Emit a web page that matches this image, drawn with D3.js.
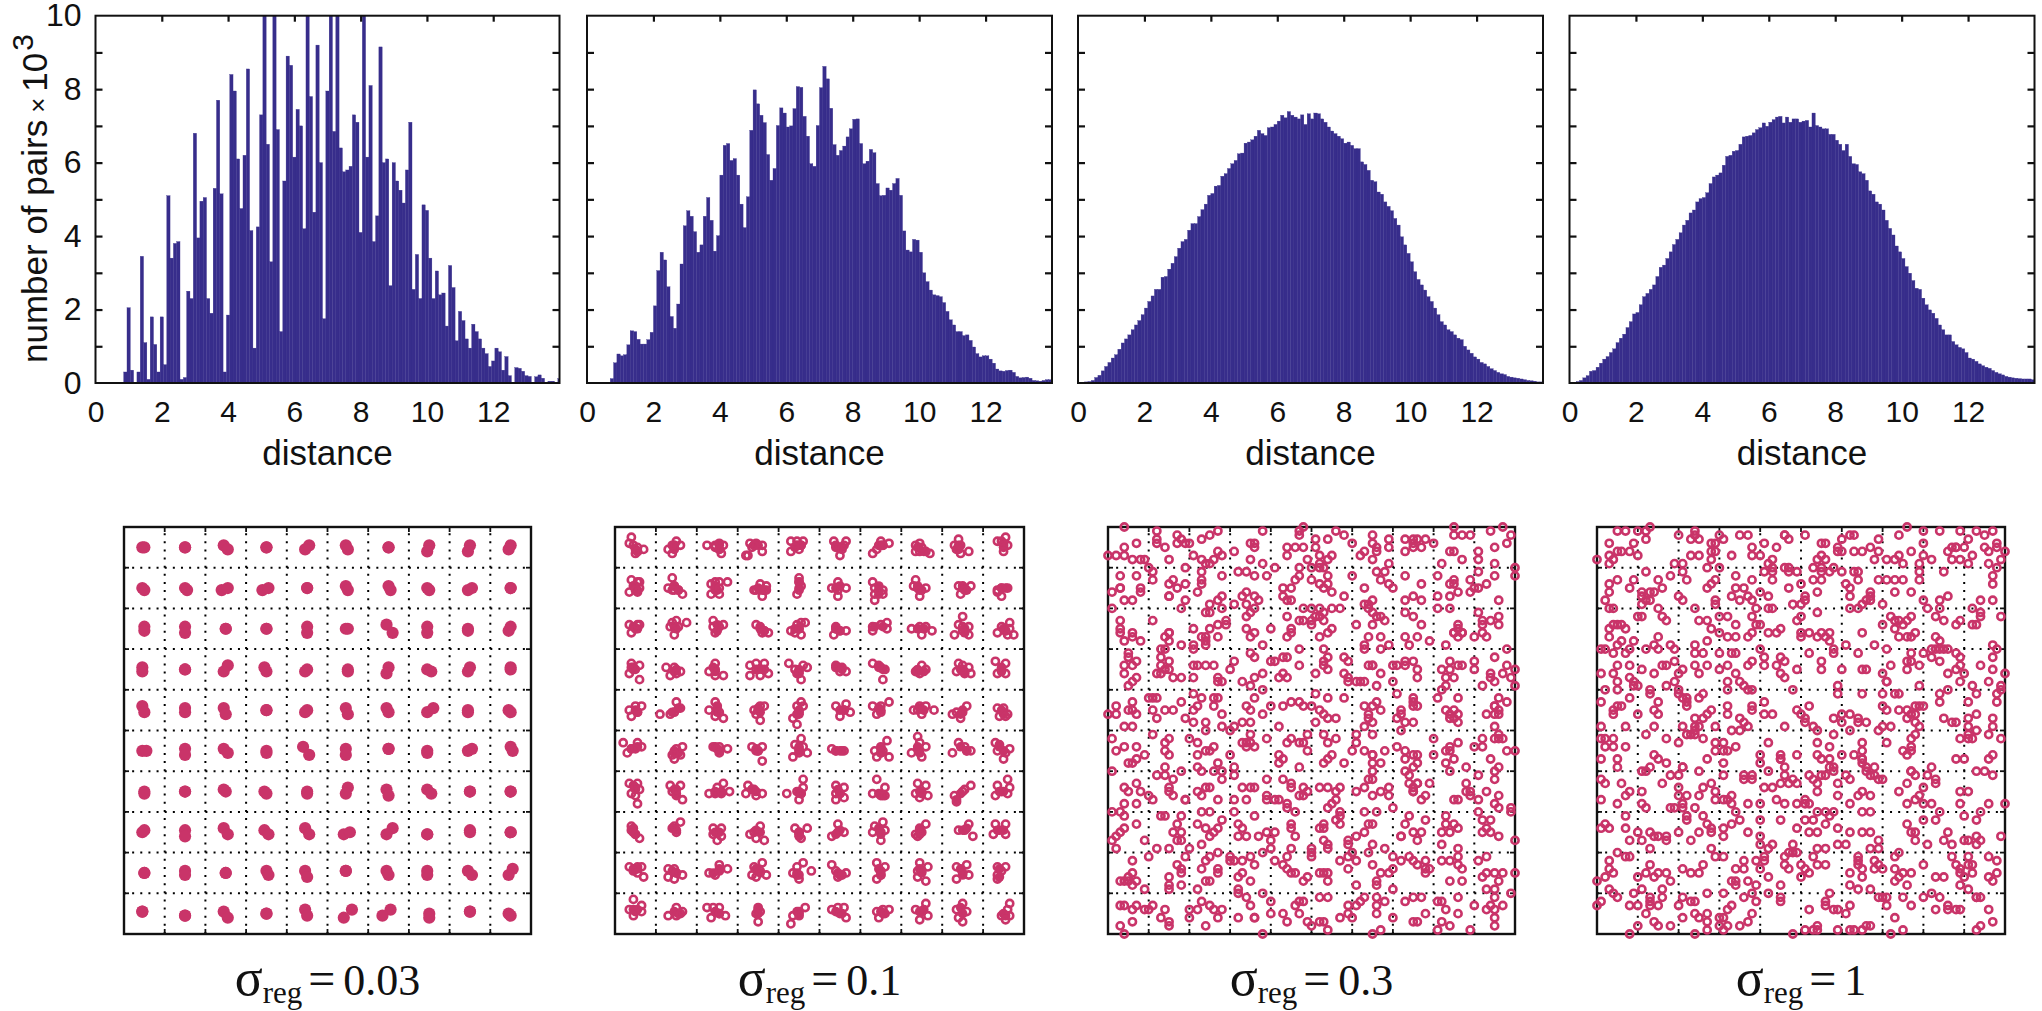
<!DOCTYPE html>
<html><head><meta charset="utf-8">
<script src="https://cdn.jsdelivr.net/npm/d3@7"></script>
<style>html,body{margin:0;padding:0;background:#fff}svg{display:block}</style>
</head><body><svg id="c" width="2042" height="1011"></svg>
<script>
const xTicks=[0,2,4,6,8,10,12], yTicks=[0,1,2,3,4,5,6,7,8,9,10];
const yTickLabels=[0,2,4,6,8,10];
const sigmaLabels=["0.03","0.1","0.3","1"];
const binStart=[0.05,0,0,0];
const hist1=[0,0,0,0,0,0,0,0,.3,2.05,.35,0,.3,3.45,1.1,.1,1.8,1.05,.3,1.8,.5,5.1,3.4,3.8,3.85,.1,.15,2.5,2.3,6.8,3.95,4.95,5.05,2.3,1.9,5.3,7.7,5.15,.3,1.85,8.4,7.95,6.1,4.75,6.2,8.55,4.15,.95,4.25,7.3,10,6.5,3.3,10,6.9,1.4,5.5,8.9,8.65,6.15,7.45,7,4.2,10,7.8,4.65,9.2,6,1.75,7.95,10,6.85,10,6.4,5.75,5.8,5.9,7.3,7.1,4.1,10,6.15,8.1,3.85,4.55,9.15,6,6.1,2.65,6,5.5,5.25,4.9,5.8,7.1,2.55,3.5,2.3,4.85,4.7,3.4,2.3,3.05,2.4,2.45,1.55,3.2,2.6,1.15,1.95,1.7,1.2,.95,1.6,1.4,1.2,.95,.8,.45,.6,.95,.85,.35,.72,.2,0,.42,.4,.32,.2,.18,0,.17,.22,.13,0,.05,.05,0,.12];
const hist2=[0,0,0,0,0,0,.02,.12,.55,.79,.74,.77,1.04,1.42,1.4,1.19,1.06,1.06,1.18,1.38,2.1,3.06,3.56,3.35,2.62,1.81,1.49,2.15,3.24,4.28,4.69,4.54,4.12,3.56,3.76,4.54,5.05,4.43,3.59,4.01,5.66,6.47,6.52,6.06,6.11,5.66,4.87,4.23,5.07,6.88,7.98,7.6,7.29,7.09,6.22,5.52,5.84,7.01,7.49,7.35,6.97,7,7.47,8.07,8.05,7.26,6.72,5.97,5.9,7.01,8.04,8.62,8.28,7.48,6.49,6.2,6.33,6.45,6.7,6.92,7.18,7.19,6.52,5.97,6.04,6.36,6.27,5.43,5.1,5.11,5.31,5.25,5.43,5.57,5.11,4.14,3.62,3.57,3.91,3.89,3.56,3,2.76,2.53,2.4,2.38,2.35,2.19,1.95,1.72,1.58,1.4,1.4,1.29,1.31,1.16,.98,.8,.71,.74,.74,.65,.54,.38,.33,.32,.34,.35,.29,.18,.14,.15,.16,.13,.07,.06,.05,.07,.09,.09];
const hist3=[.01,.02,.03,.04,.07,.15,.21,.33,.45,.56,.68,.77,.92,1.09,1.2,1.31,1.45,1.58,1.7,1.86,2.04,2.22,2.37,2.55,2.55,2.88,2.9,3.1,3.26,3.44,3.67,3.85,3.91,4.16,4.34,4.34,4.53,4.72,4.87,5.11,5.16,5.36,5.38,5.63,5.7,5.84,5.97,6.06,6.24,6.26,6.53,6.56,6.62,6.72,6.88,6.79,6.74,6.95,6.97,7.04,7.13,7.29,7.22,7.39,7.29,7.24,7.19,7.3,7.04,7.33,7.19,7.35,7.33,7.19,7.1,6.97,6.86,6.79,6.72,6.65,6.53,6.56,6.47,6.38,6.38,6.02,5.95,5.79,5.52,5.48,5.2,5.14,4.93,4.81,4.69,4.48,4.3,3.98,3.76,3.53,3.3,3.03,2.82,2.67,2.53,2.35,2.22,2.04,1.86,1.67,1.58,1.45,1.4,1.31,1.22,1.18,1,.9,.81,.71,.65,.56,.52,.45,.39,.34,.29,.25,.23,.18,.16,.14,.13,.11,.09,.07,.06,.05,.03,.03];
const hist4=[.01,.02,.04,.07,.14,.2,.32,.34,.43,.54,.65,.72,.83,.93,1.1,1.22,1.33,1.51,1.67,1.88,1.92,2.13,2.35,2.44,2.55,2.67,2.9,3.15,3.21,3.39,3.57,3.77,3.91,4.09,4.3,4.43,4.63,4.71,4.93,5.02,5.05,5.18,5.43,5.61,5.66,5.72,5.93,6.17,6.2,6.31,6.33,6.5,6.7,6.72,6.74,6.81,6.9,6.95,7.08,6.99,7.1,7.17,7.24,7.26,7.08,7.24,7.1,7.19,7.19,7.1,7.13,7.15,6.97,7.35,7.01,6.97,6.92,6.92,6.77,6.77,6.61,6.5,6.33,6.5,6.17,5.97,5.95,5.75,5.7,5.52,5.23,5.14,4.93,4.87,4.71,4.43,4.21,4.03,3.73,3.57,3.39,3.17,2.99,2.79,2.58,2.55,2.31,2.13,1.99,1.9,1.76,1.58,1.45,1.31,1.31,1.13,1.04,.97,.93,.83,.68,.65,.59,.52,.47,.43,.4,.34,.29,.25,.22,.18,.16,.14,.13,.12,.11,.11,.11,.09];
const histograms=[hist1,hist2,hist3,hist4];

// sigma 0.03: each blob is read as two end points x1,y1,x2,y2 (square spans 0..200)
const blobs03=[9,10,10,10,30,10,30,10,49,9,51,11,70,10,70,10,91,9,89,11,109,9,110,11,130,10,130,10,150,9,149,12,170,9,169,12,190,9,189,11,
9,30,10,31,30,30,31,31,48,31,51,30,68,31,71,30,90,30,90,30,109,29,110,31,130,29,131,31,149,30,150,31,169,31,171,30,190,30,190,30,
10,49,10,51,30,49,30,52,50,50,50,50,70,50,70,50,90,49,90,52,109,50,110,50,129,48,132,52,149,49,149,52,169,50,169,51,190,49,189,51,
9,69,9,71,30,70,30,70,51,68,49,71,69,69,70,71,90,70,89,71,110,71,110,70,130,69,129,72,149,70,151,71,170,69,169,71,190,69,190,70,
9,88,10,91,30,89,30,91,49,89,50,92,70,90,70,90,90,90,89,91,109,89,110,92,129,89,130,91,149,91,152,89,169,90,169,91,189,90,190,91,
9,110,11,110,30,109,30,112,49,109,51,111,70,110,70,111,88,108,91,112,109,109,109,112,130,109,130,109,149,110,149,111,169,110,171,109,190,108,191,110,
10,130,10,131,30,130,30,130,49,129,50,130,69,130,70,131,90,130,90,131,110,128,109,131,129,129,130,132,149,129,151,131,170,130,170,130,190,130,190,130,
9,150,10,149,30,149,30,152,49,148,51,151,69,149,71,151,89,148,91,151,108,151,111,150,132,148,129,151,149,151,149,151,170,149,170,150,190,150,190,150,
10,170,10,170,30,169,30,171,50,170,50,170,70,169,71,171,89,169,90,172,109,169,109,169,129,169,130,171,149,169,149,171,169,169,171,171,191,168,189,171,
9,189,9,189,30,191,30,191,49,189,51,192,70,190,70,190,89,188,90,191,112,188,108,192,131,188,127,191,150,190,150,192,170,189,170,189,189,190,190,191];

// sigma 0.1: dense, solid cores of the clusters, read as x,y pairs (square spans 0..200)
const core01=[10,11,11,12,29,9,29,11,51,9,51,11,68,9,70,9,89,9,91,9,109,10,111,10,130,9,131,9,148,10,151,12,168,9,168,11,190,8,190,10,
10,29,11,31,29,29,31,31,49,29,50,31,70,30,72,31,90,27,90,30,108,30,110,29,129,29,129,33,148,29,150,31,170,30,172,31,189,30,191,30,
9,49,11,50,29,49,30,50,50,48,50,51,71,50,73,51,88,50,90,50,108,50,110,51,127,49,131,49,148,50,151,50,171,50,171,52,190,50,191,51,
9,69,10,70,29,71,30,70,48,69,49,71,70,70,72,70,90,70,90,72,109,69,111,70,129,69,131,70,148,70,151,71,169,70,171,71,189,69,189,71,
10,90,11,91,28,91,31,89,50,89,50,91,70,89,71,91,90,90,90,92,110,90,112,90,129,89,130,90,149,89,151,90,170,90,169,92,189,90,190,92,
8,109,11,108,29,110,31,111,49,108,51,110,69,109,70,110,90,108,90,110,108,110,111,110,130,109,130,111,148,108,149,111,169,108,172,110,188,108,190,110,
9,127,10,129,29,129,30,131,49,130,52,130,67,129,69,130,90,130,91,131,109,129,110,131,129,131,131,132,149,130,150,131,169,131,167,134,188,130,190,130,
9,148,10,151,29,148,30,149,49,150,51,150,69,149,71,150,90,150,90,152,110,149,108,151,129,148,130,151,149,149,149,151,170,149,172,148,187,149,190,149,
9,168,11,168,28,169,30,170,48,170,51,168,69,168,71,170,89,170,90,171,109,170,110,171,129,168,130,171,149,168,150,170,169,168,170,171,188,168,188,172,
9,188,11,188,29,189,31,190,49,189,51,190,70,188,70,190,89,189,90,190,108,189,111,190,130,189,131,190,149,189,151,188,169,187,170,190,190,190,191,191];

// sigma 0.1: x,y pairs (square spans 0..200)
const points01=[8,5,7,8,9,9,11,10,10,13,14,11,11,12,28,13,26,11,29,9,32,9,30,7,28,9,45,9,49,9,51,8,53,9,49,10,52,13,51,11,65,14,64,14,67,10,66,8,69,8,72,9,72,12,68,9,86,12,86,7,89,7,92,7,89,9,91,9,90,11,88,10,107,7,113,7,108,10,111,11,110,14,112,9,108,9,126,13,129,9,134,8,130,7,131,9,128,11,149,8,147,9,147,12,149,12,154,13,152,12,150,10,168,6,166,9,167,11,169,13,173,12,169,9,191,5,187,7,190,9,192,9,190,12,189,7,
8,26,11,27,12,27,9,29,7,32,11,32,12,30,10,31,28,25,26,30,29,29,29,31,31,31,33,33,28,31,47,28,49,27,51,27,55,27,49,31,47,33,51,33,51,30,68,31,71,28,74,29,73,31,72,34,69,31,74,31,90,25,90,27,91,29,90,31,89,33,106,30,109,27,113,30,109,31,109,34,126,27,127,30,131,31,127,33,131,33,127,36,129,31,147,26,146,29,152,30,149,31,149,34,148,30,168,29,170,29,174,29,169,33,171,31,187,31,192,30,189,30,189,34,187,32,
7,48,12,48,8,52,10,50,11,48,27,49,30,46,35,47,29,53,31,49,28,47,48,46,53,48,49,52,51,49,48,49,69,48,71,49,73,51,75,52,72,52,86,51,89,48,93,47,91,47,88,52,91,53,90,50,108,49,107,53,110,51,113,51,108,50,126,49,126,51,130,48,133,47,133,50,145,50,149,49,150,53,152,49,155,51,170,44,168,48,166,53,170,49,173,49,173,53,170,51,187,52,189,49,193,47,191,51,195,53,192,53,193,50,
8,67,12,68,9,70,7,72,12,75,8,69,25,69,29,69,32,71,27,73,30,72,49,67,46,71,49,73,53,73,49,70,66,68,69,67,73,67,66,73,71,73,75,72,69,70,73,70,85,67,88,70,92,68,94,69,90,71,91,75,89,72,108,68,111,69,113,71,110,71,108,69,126,67,130,69,132,70,131,75,129,68,147,71,150,68,152,70,149,72,148,71,168,67,170,68,173,69,167,71,171,72,174,72,170,70,186,66,191,67,187,72,191,72,189,70,
7,90,10,88,13,88,8,93,11,91,22,92,27,92,30,86,29,91,32,89,49,86,46,90,50,88,49,93,53,94,51,91,71,88,68,90,73,88,69,92,71,95,70,90,91,86,89,88,92,88,89,92,87,94,89,97,90,91,108,88,113,87,115,91,110,93,112,90,126,88,134,86,130,88,128,92,130,91,146,90,149,88,152,88,156,90,150,92,148,90,165,92,169,94,172,88,170,91,167,91,187,89,190,89,192,92,188,93,191,93,
4,106,6,111,8,109,11,106,13,108,10,109,28,112,30,109,33,108,29,114,32,112,29,111,48,108,51,108,55,109,51,111,50,109,67,108,72,108,69,110,72,115,70,110,91,104,88,107,92,108,94,111,87,113,90,111,90,109,106,109,108,110,112,110,110,110,133,105,130,108,127,110,128,113,134,113,130,111,131,110,148,103,152,108,145,111,150,113,148,109,149,106,168,106,165,111,171,108,174,110,172,110,186,106,188,107,193,109,187,110,191,111,190,114,
7,126,11,126,10,128,8,131,10,132,11,136,12,129,27,127,32,127,28,130,30,132,33,134,30,129,46,131,50,128,53,126,56,130,52,131,49,131,65,127,64,131,68,129,72,131,69,132,67,129,92,124,84,131,89,130,90,134,92,128,91,131,108,127,108,131,112,128,108,134,112,133,110,131,128,124,132,128,126,131,130,132,132,132,148,126,152,127,147,131,153,132,149,133,150,130,174,127,170,130,167,135,166,132,171,129,192,124,187,127,193,128,186,132,192,131,189,130,
8,147,9,150,10,151,12,153,8,149,32,145,28,148,30,150,29,147,48,148,52,148,48,151,52,152,50,154,50,150,71,147,68,150,69,153,73,154,66,151,88,148,94,148,90,150,91,153,90,151,109,146,106,152,112,150,109,150,131,145,127,147,126,150,132,149,130,154,130,150,152,146,149,148,147,151,148,152,150,150,173,146,168,149,171,149,175,152,186,146,191,146,185,151,191,151,188,149,
7,167,11,167,9,169,13,167,14,172,11,170,26,168,29,168,33,171,26,172,29,173,30,170,46,170,49,171,51,166,55,168,51,169,72,165,68,167,67,171,69,172,74,171,71,169,92,165,89,167,96,169,87,170,90,173,89,171,106,166,108,169,113,170,109,172,111,171,128,165,132,167,130,169,128,173,130,171,149,165,148,169,153,167,148,172,152,174,150,169,172,166,167,167,170,170,173,171,167,173,187,167,191,167,187,171,187,173,189,169,
9,183,13,186,7,188,10,189,9,191,13,189,26,191,30,187,33,189,30,191,32,190,45,187,48,187,51,187,47,192,54,191,51,190,70,187,71,189,70,194,69,190,93,187,90,189,87,191,86,195,90,191,106,188,109,187,112,187,110,190,113,192,128,189,131,188,134,188,129,192,132,190,147,188,152,185,150,189,153,191,149,193,170,185,167,188,172,189,168,192,170,194,193,185,189,191,193,191,191,193,192,188];

// sigma 0.3: x,y pairs (square spans 0..100)
const points03=[4,0,12,1,17,2,27,1,25,2,38,1,48,0,47,1,47,2,56,1,58,2,65,2,85,0,85,2,87,2,89,2,94,1,97,0,99,2,12,3,12,4,14,5,18,3,19,4,20,4,17,4,23,3,7,4,4,5,35,4,36,4,36,5,44,5,46,5,48,5,51,3,51,5,54,3,60,4,65,4,66,5,69,3,69,5,73,3,75,3,76,3,78,3,75,4,77,5,75,5,73,6,80,4,95,5,98,4,
0,7,2,7,4,7,6,8,8,8,9,8,15,8,21,7,23,8,24,9,25,9,26,8,27,6,28,7,31,6,35,8,38,9,44,7,49,8,52,7,52,9,55,7,54,8,62,7,63,6,65,8,66,6,69,9,82,9,84,6,85,6,87,8,91,6,91,8,95,9,100,10,
10,10,11,11,11,13,3,12,7,12,19,10,23,11,23,13,23,14,28,12,32,11,34,11,36,12,39,12,41,10,47,10,47,12,46,13,50,13,50,10,52,10,53,10,52,14,54,12,54,14,55,16,53,15,60,12,66,11,68,11,67,13,69,14,70,15,73,12,77,14,81,12,91,11,95,12,100,12,85,13,85,14,84,14,89,13,91,15,89,16,93,14,15,14,16,13,19,14,17,15,15,17,15,17,8,15,8,16,3,15,3,15,1,16,4,18,6,18,19,18,18,20,22,16,34,16,33,17,36,17,37,18,43,15,45,15,43,17,44,18,45,18,58,17,63,15,73,18,75,17,77,18,81,17,84,17,86,16,90,15,96,18,65,18,64,19,63,19,28,17,27,18,25,19,31,19,34,19,
1,20,24,21,25,21,28,20,36,20,35,21,34,22,34,25,36,26,35,27,44,22,48,20,50,20,52,20,53,21,55,20,57,20,51,22,52,22,50,23,47,23,48,23,50,24,53,23,55,25,54,26,52,27,61,24,66,22,67,22,68,23,65,24,64,20,65,21,73,21,75,22,77,24,81,20,84,20,91,21,92,23,92,24,94,23,96,22,96,24,3,23,3,25,11,23,21,25,25,25,27,24,29,24,29,23,40,25,45,25,45,26,44,27,3,26,4,28,6,27,6,26,8,28,15,26,15,26,14,27,15,28,13,30,23,27,24,27,27,27,24,29,24,28,18,29,21,30,21,29,38,29,64,27,67,27,63,29,63,30,73,27,76,27,79,28,74,29,83,29,69,29,67,30,86,24,85,26,86,25,87,26,85,26,86,27,87,26,90,27,92,26,93,27,
5,31,5,32,4,34,6,34,7,33,4,36,7,37,6,38,5,39,13,32,14,30,13,34,15,33,14,35,15,35,12,36,13,36,16,37,18,37,22,34,24,34,26,34,21,34,21,37,27,37,27,38,28,38,31,33,30,35,33,38,36,37,35,39,38,36,35,31,36,32,40,33,41,33,43,32,44,32,47,30,47,34,42,37,43,36,44,37,51,36,53,30,53,33,54,32,53,34,54,35,58,32,59,33,58,36,59,37,59,38,61,38,62,38,63,38,66,39,64,34,65,34,65,34,67,36,70,38,70,34,71,34,73,33,73,34,75,33,76,35,76,37,82,35,83,37,84,33,84,35,86,34,87,34,85,37,90,33,90,35,92,39,94,37,95,32,95,38,94,36,97,36,98,30,98,34,100,35,99,37,100,39,82,40,83,39,
6,43,10,42,12,42,11,42,21,41,23,42,26,42,27,42,18,43,22,44,21,45,26,44,28,46,38,40,36,42,34,44,35,45,38,46,40,44,51,41,54,42,58,42,43,44,45,43,47,43,48,44,50,44,52,45,53,46,54,47,56,47,51,48,71,41,75,42,75,43,76,44,75,44,81,42,86,42,95,44,96,42,98,43,96,45,63,44,65,44,66,43,67,45,64,46,64,47,65,48,63,49,72,45,72,46,71,47,75,48,73,48,72,50,83,45,85,45,86,46,84,46,84,47,85,47,86,48,93,46,95,46,96,46,95,44,0,46,2,44,2,46,5,45,6,45,7,46,11,45,14,45,16,45,12,47,19,47,21,48,24,48,24,50,28,49,31,49,30,50,33,48,35,48,4,49,6,49,42,49,95,49,
1,52,11,51,2,55,4,54,7,54,15,52,14,53,14,55,15,56,9,56,7,57,6,58,5,58,1,60,20,52,22,53,24,55,22,56,25,55,26,54,27,58,30,56,34,53,35,51,35,53,33,53,34,54,36,54,39,52,45,52,44,53,47,53,48,53,49,51,49,55,42,56,43,57,42,58,47,59,53,51,56,52,54,53,54,57,55,56,53,58,58,58,61,51,61,53,60,55,63,55,65,56,65,56,65,58,68,55,67,58,65,60,65,51,71,54,73,55,75,56,76,56,73,57,76,58,80,52,80,56,84,54,84,55,86,53,83,55,85,57,83,58,84,60,88,59,90,54,92,54,92,52,95,52,96,51,97,52,96,52,98,55,100,55,94,57,73,60,75,59,
12,61,14,59,14,61,16,62,18,60,22,59,23,60,26,60,28,60,28,62,31,59,31,61,4,64,5,65,7,63,8,65,10,66,11,67,4,68,7,68,15,64,15,65,16,66,19,67,19,67,22,65,23,66,24,64,25,64,27,67,31,67,33,64,35,64,36,64,34,67,39,62,43,62,45,63,45,64,48,64,49,65,48,66,47,66,39,67,39,66,41,67,42,67,44,68,44,69,52,64,54,64,57,64,56,65,56,67,55,68,54,69,61,65,63,64,64,62,65,62,65,66,67,65,69,64,69,66,74,61,75,64,74,63,76,63,75,65,75,65,76,63,79,63,77,67,78,66,70,69,85,67,86,67,88,63,88,65,89,65,89,66,91,61,95,62,95,60,96,59,93,65,91,67,96,66,95,68,96,69,
1,70,3,70,4,71,4,74,7,73,3,75,1,77,2,76,9,77,13,71,14,71,18,71,17,73,16,75,18,75,17,77,18,77,23,70,25,70,22,73,24,74,27,74,28,72,26,75,25,76,31,70,32,73,33,74,32,76,34,76,37,76,36,71,39,75,41,75,40,77,46,70,45,73,45,74,46,76,52,74,53,73,53,74,53,77,54,78,54,79,57,70,57,71,57,73,56,72,63,70,66,70,64,73,65,73,63,75,61,76,59,77,59,78,65,78,74,71,78,72,73,73,72,76,72,76,75,75,77,75,76,77,83,71,83,73,85,73,86,74,82,75,84,75,92,72,94,72,93,74,92,75,94,75,96,76,91,70,99,69,99,70,100,77,82,78,
2,79,10,81,12,79,15,79,20,79,19,81,23,78,27,80,25,81,24,82,23,84,17,83,18,84,18,85,27,84,27,85,24,87,25,87,6,82,6,85,5,86,4,87,3,87,5,87,6,88,7,87,9,89,15,86,15,88,15,89,18,88,22,89,30,81,30,82,31,82,33,82,35,81,36,83,38,80,40,79,33,85,32,86,35,87,32,89,32,90,41,82,44,81,43,83,44,84,45,85,46,85,45,79,50,79,50,80,50,81,49,86,48,87,52,85,53,85,54,85,54,87,57,82,59,81,60,80,61,82,59,84,64,80,65,83,67,85,69,85,70,84,70,81,68,79,72,82,74,81,75,82,78,82,76,83,78,84,79,84,78,85,82,82,84,82,86,79,86,81,86,83,87,84,91,82,93,81,84,87,87,87,66,87,66,88,70,89,92,86,93,85,95,85,97,85,100,85,96,87,93,89,95,89,61,88,
66,91,3,93,4,93,6,94,7,93,9,94,10,94,11,93,13,96,14,94,15,97,15,98,3,98,6,97,4,100,20,94,20,96,22,94,23,92,25,93,26,94,27,96,28,94,24,98,32,96,34,91,35,93,36,96,36,96,38,90,38,100,40,92,40,95,43,95,44,97,46,93,47,92,48,92,47,95,49,97,50,98,52,91,54,91,52,97,53,97,54,99,57,96,59,93,59,95,60,96,61,93,62,92,63,91,65,100,66,93,66,95,67,99,68,92,70,96,73,92,75,91,77,91,75,97,76,97,78,95,81,92,82,92,83,94,82,97,81,99,84,98,86,91,86,95,89,99,90,93,93,94,94,93,95,94,95,96,95,98,95,91,97,93,99,90];

// sigma 1: x,y pairs (square spans 0..100)
const points1=[5,1,7,1,10,1,12,1,13,0,12,3,9,4,3,4,6,6,5,6,3,7,8,6,10,7,0,8,4,8,3,9,20,2,24,1,24,2,23,3,25,3,28,4,30,2,31,3,29,4,28,6,29,6,23,7,25,7,28,8,27,10,33,7,35,2,37,2,41,4,38,5,38,7,40,7,44,5,46,2,46,2,47,3,51,2,43,8,42,9,55,4,56,4,55,7,54,8,56,8,60,3,62,2,63,2,59,5,59,6,60,6,63,6,65,6,67,5,69,6,68,8,69,3,71,8,73,8,74,2,76,0,74,7,77,6,80,1,80,4,84,1,89,1,91,3,86,6,87,5,88,5,88,5,90,5,92,7,75,9,80,7,82,8,79,9,87,8,89,8,91,9,93,1,95,2,97,1,95,5,96,6,98,4,98,5,100,6,99,8,96,9,98,10,
12,11,9,13,3,14,5,13,3,16,8,15,15,13,16,15,14,16,11,16,13,16,11,17,12,18,11,19,13,18,2,18,4,20,3,20,18,12,19,9,21,9,21,11,22,13,27,15,28,14,29,13,20,17,21,18,29,19,29,18,30,10,34,12,34,15,36,15,38,13,41,11,40,16,43,11,43,10,43,13,33,17,35,18,37,17,38,18,39,20,42,17,42,20,43,20,46,10,47,10,49,11,47,11,47,15,50,14,48,19,50,19,51,18,51,17,53,10,55,10,55,11,57,11,58,10,53,13,55,13,54,16,60,11,63,11,64,11,61,14,62,15,64,13,62,17,69,13,71,13,73,13,75,13,73,16,77,16,67,16,67,17,66,18,67,18,70,19,79,11,79,13,85,11,97,12,97,14,86,17,84,18,80,18,81,20,84,20,94,18,97,18,
10,22,11,22,15,20,16,22,17,23,4,24,5,24,6,24,3,25,7,25,3,27,6,28,9,28,15,27,5,29,2,30,1,30,4,31,8,30,7,31,12,30,14,29,18,29,15,30,24,20,25,23,27,23,30,22,32,22,28,25,30,26,32,27,34,24,34,27,24,29,27,28,38,22,40,24,39,24,38,26,37,27,49,23,50,22,42,26,44,26,45,25,50,26,52,26,50,27,54,21,54,27,55,26,57,26,56,27,57,28,62,20,64,20,65,19,65,26,61,29,58,30,68,29,70,24,72,22,73,23,74,23,76,23,77,22,73,25,75,24,78,26,74,27,76,27,77,27,71,30,83,22,85,23,83,27,84,28,88,24,89,23,92,24,93,24,92,20,94,21,94,22,99,22,85,30,84,30,82,30,97,29,
5,34,8,34,1,36,4,36,5,38,8,37,9,38,10,39,9,39,2,40,5,40,11,35,14,36,13,40,16,34,17,34,19,30,19,33,21,35,20,36,19,38,17,39,20,40,24,31,26,31,24,34,27,34,25,36,30,31,33,31,34,31,32,34,34,36,30,35,32,38,32,40,35,38,36,39,37,40,38,40,37,34,38,33,40,30,41,32,41,34,44,34,45,32,46,33,45,36,46,37,48,40,52,31,49,35,55,33,55,35,58,31,60,35,64,31,65,35,66,35,59,39,59,41,65,41,70,36,71,38,72,34,71,38,76,35,77,31,76,33,77,33,79,34,79,39,80,31,82,32,83,30,84,33,86,30,88,31,89,32,89,34,88,35,86,36,90,36,89,38,94,34,98,30,97,32,97,35,96,38,100,36,99,39,99,40,86,40,92,39,
1,43,8,42,5,44,6,44,4,45,4,46,10,46,15,43,14,45,15,46,13,41,20,41,21,42,22,42,22,43,22,44,25,42,26,41,28,45,27,46,26,47,24,47,24,49,25,49,24,50,21,49,14,49,7,49,1,49,32,44,32,46,29,49,35,47,36,48,37,49,35,50,33,50,38,44,38,45,41,43,41,46,43,46,46,49,49,45,52,44,50,46,51,47,51,48,53,49,54,50,62,46,58,47,60,46,60,48,58,51,62,50,64,47,64,48,66,48,70,41,73,41,74,41,70,44,71,45,74,45,70,49,69,50,72,49,76,45,78,44,79,44,80,44,77,46,78,46,76,47,78,48,79,49,84,41,84,43,91,43,93,41,93,46,91,47,85,47,87,48,88,48,97,47,97,49,98,43,98,41,91,49,93,50,
1,52,2,52,4,52,2,54,4,54,7,54,1,57,5,57,5,59,12,51,17,52,20,53,22,51,23,51,24,51,26,52,29,53,31,53,34,54,29,55,31,55,32,55,27,57,31,58,14,56,15,57,17,58,13,59,11,60,21,59,21,59,25,60,42,53,40,56,40,58,45,56,45,57,45,57,49,56,42,60,46,59,54,53,57,54,54,56,55,57,57,57,60,56,57,59,58,59,65,53,65,55,63,56,65,57,65,57,65,58,66,59,68,59,71,53,75,55,76,56,77,54,77,52,78,51,77,55,88,57,90,57,89,52,91,52,92,52,91,51,96,51,99,52,96,57,97,56,77,60,82,59,93,60,95,60,
12,60,1,62,2,63,6,63,7,66,8,65,5,68,1,67,11,65,11,68,12,69,16,63,18,61,20,61,20,64,20,66,22,66,21,68,18,69,19,69,21,69,24,69,26,64,28,63,25,66,29,65,29,67,31,61,31,67,33,66,32,67,33,68,37,68,36,61,38,61,36,62,38,62,41,64,43,64,40,68,45,63,46,61,47,63,48,62,49,63,44,67,46,68,49,68,51,68,52,61,53,62,54,63,55,61,54,65,51,67,52,68,58,60,59,63,59,66,61,61,62,62,56,61,65,65,64,66,67,66,62,68,65,70,66,60,67,61,69,62,70,62,68,61,76,63,74,65,78,67,79,66,76,68,80,68,82,68,77,60,78,61,81,61,83,63,83,62,80,64,89,68,89,65,91,65,97,61,96,68,100,68,
7,71,2,73,1,74,3,74,7,74,10,75,13,75,14,76,15,76,11,77,8,77,13,79,17,76,17,77,20,75,22,71,22,72,26,71,27,73,28,74,25,75,28,75,23,77,28,79,31,74,31,76,33,73,35,72,34,70,37,75,40,72,40,76,40,78,43,78,42,79,45,72,49,74,51,72,53,72,52,75,54,75,48,78,47,80,54,70,56,70,57,71,58,70,56,73,59,74,62,75,65,75,67,75,67,70,69,77,67,79,56,79,59,78,61,78,54,79,80,72,76,73,77,75,78,75,78,77,81,78,84,70,83,72,86,75,85,77,87,78,90,71,94,70,93,72,93,76,90,77,91,77,94,77,93,78,99,76,69,79,74,80,
5,80,7,81,8,81,3,82,3,84,4,85,2,86,0,87,13,83,15,85,17,85,10,86,12,85,14,86,18,87,16,89,3,89,4,90,5,91,11,89,9,90,13,91,21,84,23,85,26,83,25,85,29,81,31,81,34,84,36,82,36,84,33,87,34,87,37,87,34,88,39,82,41,82,41,81,40,84,42,86,39,88,38,90,45,88,42,90,46,81,48,80,49,80,46,83,47,84,50,83,51,84,52,85,50,86,53,81,54,83,56,83,62,88,64,89,62,85,64,83,64,81,64,82,65,84,65,86,68,82,69,83,68,84,70,84,67,89,69,91,73,81,73,84,75,85,77,85,74,86,73,87,76,88,80,83,83,86,85,86,87,81,88,83,89,84,89,85,91,81,91,83,92,83,92,85,90,86,89,88,91,89,96,81,98,82,96,86,98,85,97,87,80,91,82,90,
0,93,1,92,8,93,10,93,13,92,13,93,15,93,16,91,12,95,10,98,14,97,15,98,18,98,8,100,20,93,21,91,23,92,24,92,27,90,21,96,24,95,25,96,27,95,27,97,24,100,27,99,31,90,36,91,33,93,32,94,31,96,30,96,30,98,31,99,32,98,35,98,37,97,38,95,39,92,45,91,45,92,48,100,51,99,52,94,53,99,54,98,54,99,57,90,56,92,56,93,58,94,59,94,62,93,61,95,59,99,62,99,63,99,65,99,66,98,67,98,70,91,71,91,71,93,73,96,75,91,75,99,72,100,77,93,83,94,86,94,84,91,86,93,89,94,88,94,93,91,94,91,93,91,96,94,97,97,94,98,93,99];

const INK="#111", BAR="#372d8b", RING="#c93469";
const histFrames=[[95.5,559.5],[587,1052],[1078,1543],[1569.5,2034.5]];
const histTop=15.7, histBottom=383;
const scatterFrames=[[124,531],[615,1024],[1108,1515],[1597,2005]];
const scatterTop=527, scatterBottom=934;

const svg=d3.select("#c");
const sans="'Liberation Sans',Arial,sans-serif", serif="'Liberation Serif','Times New Roman',serif";

function styleAxis(g,size){
  g.selectAll(".domain").remove();
  g.selectAll("line").attr("stroke",INK).attr("stroke-width",2.2);
  g.selectAll("text").attr("font-family",sans).attr("font-size",size).attr("fill",INK);
}

histograms.forEach((vals,p)=>{
  const [x0,x1]=histFrames[p];
  const x=d3.scaleLinear().domain([0,14]).range([x0,x1]);
  const y=d3.scaleLinear().domain([0,10]).range([histBottom,histTop]);
  const g=svg.append("g");
  const step=0.1;
  g.append("g").selectAll("rect").data(vals).join("rect")
    .attr("x",(d,i)=>x(Math.min(14,binStart[p]+i*step)))
    .attr("width",(d,i)=>x(Math.min(14,binStart[p]+(i+1)*step))-x(Math.min(14,binStart[p]+i*step)))
    .attr("y",d=>y(d)).attr("height",d=>y(0)-y(d))
    .attr("fill",BAR).attr("stroke",BAR).attr("stroke-width",0.3);
  g.append("g").attr("transform",`translate(0,${histTop})`)
    .call(d3.axisTop(x).tickValues(xTicks.slice(1)).tickSize(-6).tickFormat("")).call(a=>styleAxis(a,0));
  g.append("g").attr("transform",`translate(${x0},0)`)
    .call(d3.axisLeft(y).tickValues(yTicks.slice(1,-1)).tickSize(-7).tickFormat("")).call(a=>styleAxis(a,0));
  g.append("g").attr("transform",`translate(${x1},0)`)
    .call(d3.axisRight(y).tickValues(yTicks.slice(1,-1)).tickSize(-7).tickFormat("")).call(a=>styleAxis(a,0));
  g.append("g").attr("transform",`translate(0,${histBottom})`)
    .call(d3.axisBottom(x).tickValues(xTicks).tickSize(0).tickPadding(18).tickFormat(d3.format("d")))
    .call(a=>styleAxis(a,30));
  if(p===0){
    g.append("g").attr("transform",`translate(${x0},0)`)
      .call(d3.axisLeft(y).tickValues(yTickLabels).tickSize(0).tickPadding(14).tickFormat(d3.format("d")))
      .call(a=>styleAxis(a,32));
    const t=g.append("text").attr("transform","translate(47,363) rotate(-90)")
      .attr("font-family",sans).attr("font-size",35).attr("fill",INK);
    t.append("tspan").text("number of pairs");
    t.append("tspan").attr("dx",7).attr("font-size",26).text("×");
    t.append("tspan").attr("dx",6).text("10");
    t.append("tspan").attr("dy",-14).attr("dx",2).attr("font-size",30).text("3");
  }
  g.append("rect").attr("x",x0).attr("y",histTop).attr("width",x1-x0).attr("height",histBottom-histTop)
    .attr("fill","none").attr("stroke",INK).attr("stroke-width",2);
  g.append("text").attr("x",(x0+x1)/2).attr("y",465).attr("text-anchor","middle")
    .attr("font-family",sans).attr("font-size",35).attr("fill",INK).text("distance");
});

const toPairs=a=>d3.range(0,a.length,2).map(i=>[a[i],a[i+1]]);
const scatterSets=[
  {solid:toPairs(blobs03),solidR:6.1,pts:[],span:200},
  {solid:toPairs(core01),solidR:4.8,pts:toPairs(points01),span:200},
  {solid:[],solidR:0,pts:toPairs(points03),span:100},
  {solid:[],solidR:0,pts:toPairs(points1),span:100}];
const gridFractions=[.1,.2,.3,.4,.5,.6,.7,.8,.9];

scatterSets.forEach((set,p)=>{
  const [x0,x1]=scatterFrames[p];
  const x=d3.scaleLinear().domain([0,set.span]).range([x0,x1]);
  const y=d3.scaleLinear().domain([0,set.span]).range([scatterTop,scatterBottom]);
  const g=svg.append("g");
  const grid=g.append("g").attr("stroke","#000").attr("stroke-width",2).attr("stroke-dasharray","2 6.14");
  gridFractions.forEach(f=>{
    const v=f*set.span;
    grid.append("line").attr("x1",x(v)).attr("x2",x(v)).attr("y1",y(set.span)).attr("y2",y(0));
    grid.append("line").attr("y1",y(v)).attr("y2",y(v)).attr("x1",x(0)).attr("x2",x(set.span));
  });
  const ticks=g.append("g").attr("stroke",INK).attr("stroke-width",1.8);
  gridFractions.forEach(f=>{
    const v=f*set.span;
    ticks.append("line").attr("x1",x(v)).attr("x2",x(v)).attr("y1",y(set.span)).attr("y2",y(set.span)-5);
    ticks.append("line").attr("x1",x(v)).attr("x2",x(v)).attr("y1",y(0)).attr("y2",y(0)+5);
    ticks.append("line").attr("y1",y(v)).attr("y2",y(v)).attr("x1",x(0)).attr("x2",x(0)+5);
    ticks.append("line").attr("y1",y(v)).attr("y2",y(v)).attr("x1",x(set.span)).attr("x2",x(set.span)-5);
  });
  g.append("rect").attr("x",x0).attr("y",scatterTop).attr("width",x1-x0).attr("height",scatterBottom-scatterTop)
    .attr("fill","none").attr("stroke",INK).attr("stroke-width",2.4);
  g.append("g").selectAll("circle").data(set.solid).join("circle")
    .attr("cx",d=>x(d[0])).attr("cy",d=>y(d[1])).attr("r",set.solidR).attr("fill",RING);
  g.append("g").selectAll("circle").data(set.pts).join("circle")
    .attr("cx",d=>x(d[0])).attr("cy",d=>y(d[1])).attr("r",3.6)
    .attr("fill","none").attr("stroke",RING).attr("stroke-width",2.6);
  const t=g.append("text").attr("x",(x0+x1)/2).attr("y",995).attr("text-anchor","middle")
    .attr("font-family",serif).attr("font-size",46).attr("fill",INK);
  t.append("tspan").attr("font-size",52).text("σ");
  t.append("tspan").attr("font-size",31).attr("dy",8).text("reg");
  t.append("tspan").attr("dy",-8).attr("dx",6).attr("font-size",48).text("=");
  t.append("tspan").attr("dx",8).attr("font-size",44).text(sigmaLabels[p]);
});
</script></body></html>
